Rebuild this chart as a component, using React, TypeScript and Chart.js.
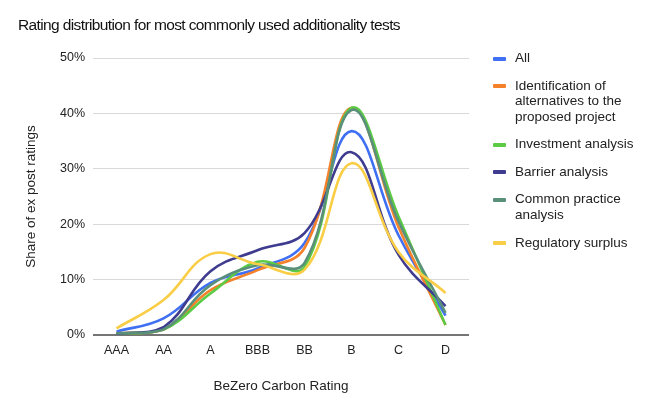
import React, { useEffect, useRef } from "react";
import { Chart, registerables } from "chart.js";

Chart.register(...registerables);

const categories = ["AAA", "AA", "A", "BBB", "BB", "B", "C", "D"];
const allTests = [0.6, 3, 9.4, 12, 16.6, 36.8, 18, 3.5];
const identification = [0.3, 1, 8.1, 11.7, 15.7, 41, 19.5, 1.8];
const investment = [0.2, 1, 7.5, 13.2, 12.3, 41, 21.4, 1.8];
const barrier = [0.2, 1.4, 11.5, 15.3, 18.4, 33, 14.5, 5.2];
const commonPractice = [0.3, 1, 9, 12.6, 13, 40.6, 20.5, 4];
const regulatory = [1.2, 6.3, 14.6, 12.8, 11.8, 31, 15, 7.6];
const yTicks = [0, 10, 20, 30, 40, 50];

const seriesNames = [
  ["All"],
  ["Identification of", "alternatives to the", "proposed project"],
  ["Investment analysis"],
  ["Barrier analysis"],
  ["Common practice", "analysis"],
  ["Regulatory surplus"],
];
const seriesValues = [allTests, identification, investment, barrier, commonPractice, regulatory];
const seriesColors = ["#3F6FF2", "#F5812B", "#5BCB45", "#3F3C8F", "#5A9079", "#F9CD46"];

const FONT = "'Liberation Sans', Arial, sans-serif";

export default function App() {
  const canvasRef = useRef<HTMLCanvasElement | null>(null);

  useEffect(() => {
    if (!canvasRef.current) return;
    const n = seriesValues.length;
    const chart = new Chart(canvasRef.current, {
      type: "line",
      data: {
        labels: categories,
        datasets: seriesValues.map((vals, i) => ({
          label: seriesNames[i].join(" "),
          data: vals,
          borderColor: seriesColors[i],
          backgroundColor: seriesColors[i],
          borderWidth: 2.6,
          pointRadius: 0,
          tension: 0.4,
          fill: false,
          order: n - i,
        })),
      },
      options: {
        animation: false,
        responsive: true,
        maintainAspectRatio: false,
        layout: { padding: { left: 0, right: 195, top: 58, bottom: 0 } },
        plugins: {
          legend: { display: false },
          title: { display: false },
          tooltip: { enabled: false },
        },
        scales: {
          x: {
            offset: true,
            grid: { display: false, drawTicks: false },
            border: { display: false },
            ticks: {
              color: "#222",
              padding: 8,
              font: { family: FONT, size: 12.5 },
            },
            title: {
              display: true,
              text: "BeZero Carbon Rating",
              color: "#222",
              font: { family: FONT, size: 13.5 },
              padding: { top: 0, bottom: 15 },
            },
            afterFit: (scale: any) => {
              scale.height = 74;
            },
          },
          y: {
            min: 0,
            max: 50,
            afterBuildTicks: (scale: any) => {
              scale.ticks = yTicks.map((v) => ({ value: v }));
            },
            grid: {
              drawTicks: false,
              color: (ctx: any) => (ctx.tick && ctx.tick.value === 0 ? "#757575" : "#d9d9d9"),
              lineWidth: (ctx: any) => (ctx.tick && ctx.tick.value === 0 ? 2 : 1),
            },
            border: { display: false },
            ticks: {
              color: "#222",
              padding: 8,
              font: { family: FONT, size: 12.5 },
              callback: (v: any) => v + "%",
            },
            title: {
              display: true,
              text: "Share of ex post ratings",
              color: "#222",
              font: { family: FONT, size: 13.5 },
              padding: { top: 23, bottom: 0 },
            },
            afterFit: (scale: any) => {
              scale.width = 93;
            },
          },
        },
      },
    });
    return () => chart.destroy();
  }, []);

  return (
    <div
      style={{
        position: "absolute",
        left: 0,
        top: 0,
        width: 664,
        height: 409,
        background: "#fff",
        fontFamily: FONT,
      }}
    >
      <canvas ref={canvasRef} />
      <div
        style={{
          position: "absolute",
          left: 18,
          top: 15,
          fontSize: 15.5,
          letterSpacing: -0.62,
          color: "#111",
          whiteSpace: "nowrap",
          lineHeight: "20px",
        }}
      >
        Rating distribution for most commonly used additionality tests
      </div>
      <div style={{ position: "absolute", left: 493, top: 50 }}>
        {seriesNames.map((lines, i) => (
          <div key={i} style={{ display: "flex", alignItems: "flex-start", marginBottom: 11.8 }}>
            <div
              style={{
                width: 13,
                height: 4,
                borderRadius: 1,
                background: seriesColors[i],
                marginTop: 6.5,
                marginRight: 9,
                flexShrink: 0,
              }}
            />
            <div style={{ fontSize: 13.5, lineHeight: "15.7px", color: "#222", whiteSpace: "nowrap" }}>
              {lines.map((l, j) => (
                <div key={j}>{l}</div>
              ))}
            </div>
          </div>
        ))}
      </div>
    </div>
  );
}
